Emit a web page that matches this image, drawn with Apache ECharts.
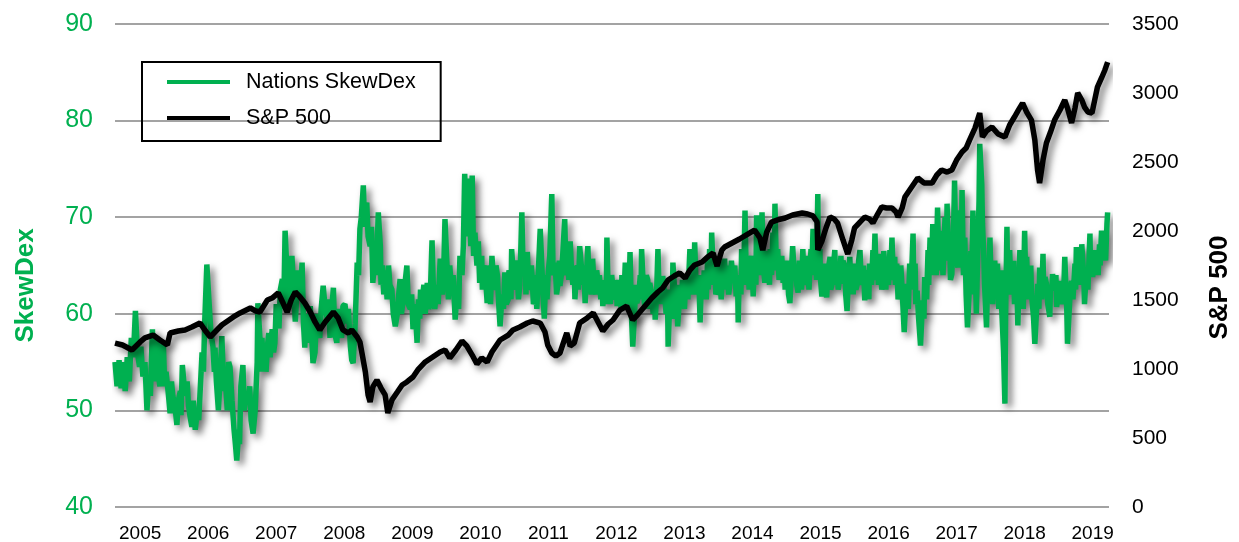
<!DOCTYPE html>
<html>
<head>
<meta charset="utf-8">
<title>Nations SkewDex vs S&amp;P 500</title>
<script src="https://cdn.jsdelivr.net/npm/echarts@6/dist/echarts.min.js"></script>
<style>
  html, body { margin: 0; padding: 0; background: #fff; }
  #chart { width: 1239px; height: 542px; }
</style>
</head>
<body>
<div id="chart"></div>
<script>
// year labels on the x axis
const years = [2005, 2006, 2007, 2008, 2009, 2010, 2011, 2012, 2013, 2014, 2015, 2016, 2017, 2018, 2019]

// Nations SkewDex, [fractional year, value]
const skewDex = [
  [2004.63,55.0],[2004.66,52.5],[2004.69,55.2],[2004.72,52.3],[2004.75,55.0],[2004.78,52.0],[2004.81,55.5],[2004.84,53.0],
  [2004.87,57.5],[2004.90,55.5],[2004.93,60.3],[2004.96,56.0],[2004.99,54.5],[2005.01,56.6],[2005.04,53.5],[2005.07,55.0],
  [2005.10,50.0],[2005.13,53.5],[2005.15,51.5],[2005.18,58.4],[2005.20,53.0],[2005.22,55.0],[2005.25,57.5],[2005.27,53.5],
  [2005.29,52.5],[2005.31,55.5],[2005.34,57.0],[2005.36,52.5],[2005.38,54.0],[2005.41,52.0],[2005.44,49.7],[2005.46,53.0],
  [2005.48,51.5],[2005.51,50.5],[2005.54,48.5],[2005.56,51.0],[2005.59,52.0],[2005.60,49.5],[2005.62,54.7],[2005.66,51.5],
  [2005.69,53.0],[2005.71,50.5],[2005.73,49.5],[2005.76,48.3],[2005.78,51.0],[2005.81,48.0],[2005.84,50.0],[2005.86,49.0],
  [2005.88,51.8],[2005.91,56.0],[2005.93,54.0],[2005.95,59.4],[2005.98,65.1],[2006.01,61.5],[2006.04,58.0],[2006.07,56.6],
  [2006.09,54.0],[2006.10,56.5],[2006.12,53.0],[2006.15,50.0],[2006.18,54.0],[2006.20,57.7],[2006.23,52.0],[2006.25,53.5],
  [2006.28,50.0],[2006.30,55.0],[2006.32,54.5],[2006.35,51.0],[2006.38,48.0],[2006.40,46.5],[2006.42,44.8],[2006.45,48.0],
  [2006.46,46.5],[2006.48,52.5],[2006.51,54.7],[2006.53,50.0],[2006.56,52.0],[2006.59,51.0],[2006.61,52.5],[2006.63,49.0],
  [2006.66,47.6],[2006.69,50.0],[2006.72,55.0],[2006.73,61.1],[2006.76,57.5],[2006.78,54.0],[2006.79,57.5],[2006.81,54.5],
  [2006.84,57.0],[2006.85,54.0],[2006.87,56.6],[2006.89,58.0],[2006.91,55.5],[2006.94,58.4],[2006.96,56.0],[2006.98,57.0],
  [2007.00,61.0],[2007.01,59.5],[2007.04,58.5],[2007.06,62.5],[2007.09,63.6],[2007.11,60.5],[2007.13,68.6],[2007.16,64.0],
  [2007.17,65.5],[2007.18,60.5],[2007.20,63.0],[2007.23,66.0],[2007.26,62.0],[2007.28,59.2],[2007.31,63.0],[2007.32,64.5],
  [2007.35,62.0],[2007.38,65.3],[2007.40,59.0],[2007.42,56.5],[2007.44,60.0],[2007.47,57.0],[2007.50,60.8],[2007.52,58.0],
  [2007.54,54.9],[2007.57,56.0],[2007.59,60.0],[2007.61,58.5],[2007.64,57.5],[2007.66,60.5],[2007.69,62.9],[2007.72,60.5],
  [2007.75,59.5],[2007.77,61.5],[2007.79,57.5],[2007.81,60.0],[2007.84,62.7],[2007.86,58.0],[2007.89,57.0],[2007.91,60.5],
  [2007.94,59.5],[2007.96,57.5],[2007.98,60.8],[2008.01,61.0],[2008.04,59.0],[2008.06,60.5],[2008.09,56.6],[2008.11,55.2],
  [2008.13,54.9],[2008.16,59.0],[2008.19,65.3],[2008.21,64.0],[2008.23,68.8],[2008.25,70.0],[2008.28,73.3],[2008.30,69.0],
  [2008.31,71.0],[2008.33,71.5],[2008.35,68.0],[2008.38,67.0],[2008.40,69.0],[2008.42,63.2],[2008.45,66.0],[2008.47,64.0],
  [2008.50,70.5],[2008.53,67.0],[2008.54,63.0],[2008.56,65.0],[2008.58,62.0],[2008.60,64.5],[2008.63,61.5],[2008.65,65.0],
  [2008.67,63.0],[2008.70,62.5],[2008.72,60.0],[2008.75,58.7],[2008.78,60.0],[2008.80,62.0],[2008.82,63.6],[2008.84,60.0],
  [2008.86,61.1],[2008.89,63.0],[2008.92,65.0],[2008.94,61.0],[2008.97,60.5],[2008.99,62.0],[2009.01,58.4],[2009.04,61.0],
  [2009.07,57.0],[2009.09,61.5],[2009.11,59.5],[2009.12,62.5],[2009.14,61.1],[2009.17,63.0],[2009.19,60.0],[2009.22,63.2],
  [2009.24,60.5],[2009.26,61.0],[2009.29,67.6],[2009.31,62.5],[2009.33,60.5],[2009.36,63.0],[2009.38,61.0],[2009.41,65.7],
  [2009.44,62.0],[2009.46,64.0],[2009.48,69.8],[2009.51,65.0],[2009.53,61.5],[2009.55,65.0],[2009.58,62.0],[2009.60,64.0],
  [2009.63,59.4],[2009.66,62.5],[2009.68,60.5],[2009.70,66.0],[2009.73,64.0],[2009.75,67.0],[2009.77,74.5],[2009.80,68.0],
  [2009.83,74.0],[2009.86,67.0],[2009.88,74.3],[2009.90,66.0],[2009.92,68.4],[2009.95,65.0],[2009.97,67.5],[2009.99,63.2],
  [2010.02,66.0],[2010.03,62.5],[2010.05,65.0],[2010.08,63.5],[2010.10,61.1],[2010.12,65.0],[2010.14,64.0],[2010.15,61.0],
  [2010.17,66.0],[2010.20,63.0],[2010.22,62.5],[2010.23,65.0],[2010.25,64.0],[2010.27,61.0],[2010.29,58.7],[2010.32,62.0],
  [2010.34,60.5],[2010.36,64.3],[2010.38,61.0],[2010.41,61.5],[2010.42,64.5],[2010.44,64.0],[2010.45,61.5],[2010.46,66.7],
  [2010.49,63.5],[2010.51,62.5],[2010.52,65.5],[2010.54,65.0],[2010.56,61.5],[2010.58,63.0],[2010.61,70.5],[2010.63,64.0],
  [2010.66,66.0],[2010.67,62.0],[2010.69,66.4],[2010.71,63.0],[2010.73,62.5],[2010.75,65.0],[2010.76,63.9],[2010.78,61.0],
  [2010.80,61.5],[2010.81,64.0],[2010.83,60.5],[2010.85,64.0],[2010.88,68.8],[2010.91,64.0],[2010.92,62.0],[2010.94,59.5],
  [2010.96,64.0],[2010.98,61.5],[2011.00,64.5],[2011.02,66.0],[2011.05,72.4],[2011.07,64.0],[2011.10,65.3],[2011.12,62.0],
  [2011.14,63.0],[2011.16,65.5],[2011.17,62.9],[2011.19,64.0],[2011.21,66.0],[2011.24,69.8],[2011.26,64.0],[2011.29,66.0],
  [2011.30,63.5],[2011.32,67.5],[2011.34,64.5],[2011.36,63.0],[2011.38,65.0],[2011.39,61.5],[2011.41,64.0],[2011.43,65.0],
  [2011.44,62.5],[2011.46,67.0],[2011.49,64.5],[2011.51,63.0],[2011.52,65.0],[2011.54,61.1],[2011.56,64.0],[2011.58,67.0],
  [2011.60,62.5],[2011.61,64.0],[2011.63,62.0],[2011.65,65.7],[2011.67,63.0],[2011.70,62.0],[2011.71,64.5],[2011.73,63.2],
  [2011.75,64.0],[2011.77,61.5],[2011.79,63.5],[2011.80,60.8],[2011.82,62.5],[2011.83,63.0],[2011.85,61.0],[2011.86,67.9],
  [2011.88,62.0],[2011.90,63.5],[2011.91,61.0],[2011.93,64.0],[2011.96,62.0],[2011.98,61.5],[2012.00,63.5],[2012.01,60.8],
  [2012.03,63.5],[2012.05,62.5],[2012.07,60.5],[2012.08,64.0],[2012.11,61.5],[2012.13,65.3],[2012.15,61.0],[2012.17,62.0],
  [2012.19,63.5],[2012.20,66.4],[2012.22,60.0],[2012.24,56.6],[2012.27,60.5],[2012.28,63.0],[2012.30,61.1],[2012.33,62.0],
  [2012.35,64.0],[2012.36,61.5],[2012.37,66.7],[2012.40,62.0],[2012.42,60.5],[2012.44,64.0],[2012.46,63.5],[2012.48,60.5],
  [2012.49,63.2],[2012.52,62.0],[2012.54,60.0],[2012.56,62.5],[2012.57,59.4],[2012.59,62.0],[2012.61,66.7],[2012.63,61.5],
  [2012.64,63.5],[2012.66,61.0],[2012.68,63.9],[2012.71,62.0],[2012.73,60.0],[2012.75,62.5],[2012.76,56.6],[2012.78,60.5],
  [2012.80,61.0],[2012.82,59.5],[2012.83,65.3],[2012.86,62.0],[2012.88,61.0],[2012.89,63.0],[2012.90,58.7],[2012.93,62.0],
  [2012.95,60.8],[2012.97,63.5],[2012.98,62.5],[2013.00,60.5],[2013.02,63.9],[2013.05,61.5],[2013.08,66.7],[2013.10,62.0],
  [2013.12,64.6],[2013.14,62.0],[2013.15,67.4],[2013.17,63.0],[2013.19,62.5],[2013.21,64.0],[2013.23,59.1],[2013.25,63.5],
  [2013.27,61.8],[2013.29,64.5],[2013.30,63.9],[2013.32,61.5],[2013.34,65.7],[2013.35,62.5],[2013.37,66.7],[2013.39,63.5],
  [2013.40,68.4],[2013.43,63.0],[2013.45,65.3],[2013.46,62.0],[2013.48,62.5],[2013.50,65.5],[2013.52,63.9],[2013.54,61.5],
  [2013.55,62.9],[2013.57,64.5],[2013.59,65.7],[2013.61,62.5],[2013.62,65.0],[2013.65,62.0],[2013.67,63.2],[2013.69,65.5],
  [2013.71,63.9],[2013.74,65.0],[2013.76,61.8],[2013.78,64.0],[2013.79,59.1],[2013.80,62.5],[2013.81,63.9],[2013.83,62.0],
  [2013.84,66.7],[2013.87,63.5],[2013.89,70.7],[2013.91,63.0],[2013.93,66.0],[2013.95,62.5],[2013.96,63.9],[2013.99,66.0],
  [2014.01,61.8],[2014.02,64.0],[2014.03,65.7],[2014.05,63.0],[2014.06,70.2],[2014.09,64.0],[2014.11,67.4],[2014.12,64.0],
  [2014.14,70.5],[2014.16,65.0],[2014.18,63.2],[2014.21,66.5],[2014.23,65.3],[2014.25,63.0],[2014.26,66.7],[2014.28,64.0],
  [2014.30,68.4],[2014.32,64.5],[2014.33,71.4],[2014.35,65.0],[2014.37,66.7],[2014.39,63.5],[2014.40,64.6],[2014.43,66.0],
  [2014.45,63.2],[2014.47,65.0],[2014.48,62.5],[2014.50,65.5],[2014.52,63.9],[2014.53,62.0],[2014.55,61.1],[2014.57,64.0],
  [2014.59,67.0],[2014.62,63.5],[2014.64,65.0],[2014.65,63.0],[2014.67,62.2],[2014.69,65.5],[2014.71,64.6],[2014.72,62.5],
  [2014.74,66.7],[2014.76,63.0],[2014.78,63.9],[2014.80,66.0],[2014.81,64.6],[2014.83,62.5],[2014.86,66.7],[2014.87,64.0],
  [2014.89,68.8],[2014.91,64.0],[2014.93,66.7],[2014.94,63.5],[2014.96,72.4],[2014.97,64.0],[2014.99,66.7],[2015.00,63.5],
  [2015.02,61.8],[2015.04,64.0],[2015.06,65.2],[2015.07,63.0],[2015.09,61.7],[2015.11,64.5],[2015.14,65.9],[2015.15,62.5],
  [2015.17,63.1],[2015.19,65.0],[2015.21,66.6],[2015.22,63.0],[2015.24,65.2],[2015.26,62.5],[2015.28,63.8],[2015.30,66.0],
  [2015.31,63.1],[2015.33,65.5],[2015.36,64.8],[2015.37,62.0],[2015.39,60.3],[2015.41,63.5],[2015.43,65.9],[2015.45,62.5],
  [2015.47,64.5],[2015.48,62.0],[2015.50,65.2],[2015.52,62.5],[2015.55,63.4],[2015.56,65.5],[2015.58,66.6],[2015.60,63.0],
  [2015.62,63.8],[2015.63,65.0],[2015.65,61.4],[2015.67,64.5],[2015.69,63.8],[2015.71,61.5],[2015.72,65.2],[2015.75,63.0],
  [2015.77,66.6],[2015.78,63.5],[2015.80,68.3],[2015.82,63.5],[2015.84,65.9],[2015.85,63.0],[2015.87,66.2],[2015.90,62.5],
  [2015.92,63.8],[2015.93,66.5],[2015.94,65.2],[2015.96,62.5],[2015.97,64.5],[2016.00,63.0],[2016.02,66.6],[2016.03,63.5],
  [2016.05,67.9],[2016.07,63.5],[2016.09,65.9],[2016.10,63.0],[2016.12,65.2],[2016.14,61.5],[2016.17,63.1],[2016.18,65.0],
  [2016.20,62.4],[2016.23,58.1],[2016.25,61.0],[2016.27,63.1],[2016.29,60.5],[2016.31,65.2],[2016.33,62.5],[2016.36,68.3],
  [2016.37,63.5],[2016.39,65.2],[2016.40,61.0],[2016.42,62.4],[2016.44,59.7],[2016.47,56.7],[2016.50,61.4],[2016.52,59.5],
  [2016.53,63.8],[2016.56,61.5],[2016.58,66.6],[2016.59,63.0],[2016.61,67.9],[2016.63,64.0],[2016.65,69.3],[2016.67,64.5],
  [2016.68,67.2],[2016.70,64.0],[2016.72,71.0],[2016.74,65.0],[2016.75,68.6],[2016.77,64.5],[2016.78,67.2],[2016.80,64.0],
  [2016.83,70.0],[2016.85,65.5],[2016.86,71.4],[2016.88,66.0],[2016.90,67.9],[2016.91,63.5],[2016.93,64.1],[2016.96,70.0],
  [2016.97,73.8],[2016.99,66.0],[2017.02,64.8],[2017.04,68.0],[2017.05,70.7],[2017.07,66.0],[2017.08,72.8],[2017.10,64.0],
  [2017.12,67.9],[2017.14,62.0],[2017.16,58.6],[2017.19,63.1],[2017.21,66.5],[2017.22,62.5],[2017.24,70.7],[2017.26,62.0],
  [2017.27,66.6],[2017.29,60.0],[2017.30,63.1],[2017.33,71.7],[2017.34,77.6],[2017.37,73.4],[2017.38,69.3],[2017.40,66.0],
  [2017.41,63.1],[2017.44,58.6],[2017.46,65.0],[2017.47,62.4],[2017.49,67.9],[2017.51,62.0],[2017.52,63.8],[2017.53,61.0],
  [2017.56,65.5],[2017.58,63.1],[2017.59,61.5],[2017.60,65.2],[2017.62,60.5],[2017.63,62.4],[2017.65,64.5],[2017.66,61.0],
  [2017.69,56.2],[2017.71,50.7],[2017.72,59.7],[2017.74,69.0],[2017.75,63.5],[2017.77,65.2],[2017.78,66.6],[2017.80,62.0],
  [2017.82,63.8],[2017.84,65.5],[2017.85,61.0],[2017.88,64.8],[2017.90,58.8],[2017.93,66.6],[2017.94,61.5],[2017.96,63.1],
  [2017.98,60.5],[2018.00,68.6],[2018.02,62.0],[2018.03,65.9],[2018.05,61.5],[2018.07,63.1],[2018.09,65.0],[2018.10,62.1],
  [2018.13,59.7],[2018.15,56.9],[2018.18,61.0],[2018.19,63.1],[2018.21,60.5],[2018.22,64.8],[2018.25,61.5],[2018.27,66.2],
  [2018.28,62.0],[2018.30,63.8],[2018.32,63.1],[2018.34,61.0],[2018.37,59.7],[2018.38,63.0],[2018.40,62.4],[2018.41,64.1],
  [2018.44,62.4],[2018.46,64.0],[2018.47,60.7],[2018.50,62.5],[2018.52,63.4],[2018.53,61.0],[2018.55,62.4],[2018.57,61.0],
  [2018.59,65.9],[2018.62,60.3],[2018.63,56.9],[2018.66,61.0],[2018.67,62.5],[2018.69,63.4],[2018.71,61.5],[2018.74,65.2],
  [2018.75,62.5],[2018.76,66.9],[2018.78,63.0],[2018.81,65.9],[2018.82,63.0],[2018.84,67.2],[2018.87,63.8],[2018.88,61.0],
  [2018.91,64.8],[2018.93,62.5],[2018.96,68.3],[2018.97,64.0],[2018.99,65.2],[2019.00,63.8],[2019.03,66.6],[2019.04,64.0],
  [2019.06,65.9],[2019.08,64.0],[2019.10,67.2],[2019.11,65.0],[2019.13,68.6],[2019.16,66.6],[2019.18,66.9],[2019.19,65.5],
  [2019.21,69.3],[2019.22,70.5]
]

// S&P 500 level
const spxYears = [
  2004.63, 2004.74, 2004.88, 2005.00, 2005.07, 2005.19, 2005.29, 2005.40, 2005.44, 2005.56,
  2005.66, 2005.76, 2005.88, 2005.95, 2006.03, 2006.10, 2006.20, 2006.37, 2006.47, 2006.62,
  2006.70, 2006.76, 2006.87, 2006.94, 2007.03, 2007.10, 2007.16, 2007.22, 2007.28, 2007.35,
  2007.42, 2007.50, 2007.57, 2007.64, 2007.72, 2007.84, 2007.91, 2007.98, 2008.06, 2008.11,
  2008.19, 2008.23, 2008.26, 2008.31, 2008.35, 2008.38, 2008.42, 2008.48, 2008.54, 2008.60,
  2008.64, 2008.70, 2008.78, 2008.85, 2008.92, 2009.01, 2009.08, 2009.19, 2009.30, 2009.41,
  2009.48, 2009.55, 2009.64, 2009.73, 2009.80, 2009.88, 2009.95, 2010.02, 2010.10, 2010.17,
  2010.29, 2010.41, 2010.48, 2010.58, 2010.69, 2010.77, 2010.88, 2010.95, 2010.99, 2011.05,
  2011.11, 2011.17, 2011.21, 2011.27, 2011.32, 2011.38, 2011.46, 2011.57, 2011.66, 2011.73,
  2011.80, 2011.88, 2011.95, 2012.05, 2012.15, 2012.24, 2012.32, 2012.42, 2012.52, 2012.61,
  2012.68, 2012.76, 2012.85, 2012.93, 2013.01, 2013.08, 2013.15, 2013.26, 2013.34, 2013.42,
  2013.48, 2013.55, 2013.59, 2013.70, 2013.81, 2013.93, 2014.03, 2014.11, 2014.15, 2014.21,
  2014.28, 2014.37, 2014.48, 2014.59, 2014.73, 2014.81, 2014.89, 2014.95, 2014.96, 2015.02,
  2015.08, 2015.14, 2015.20, 2015.25, 2015.33, 2015.40, 2015.46, 2015.50, 2015.58, 2015.65,
  2015.72, 2015.77, 2015.84, 2015.90, 2015.97, 2016.05, 2016.11, 2016.14, 2016.20, 2016.24,
  2016.31, 2016.39, 2016.43, 2016.52, 2016.64, 2016.71, 2016.78, 2016.86, 2016.93, 2017.00,
  2017.08, 2017.14, 2017.19, 2017.27, 2017.34, 2017.38, 2017.44, 2017.52, 2017.61, 2017.71,
  2017.78, 2017.85, 2017.91, 2017.97, 2018.03, 2018.10, 2018.15, 2018.19, 2018.22, 2018.27,
  2018.32, 2018.38, 2018.44, 2018.52, 2018.59, 2018.63, 2018.69, 2018.74, 2018.78, 2018.84,
  2018.88, 2018.93, 2018.99, 2019.03, 2019.07, 2019.13, 2019.18, 2019.22
]
const spxValues = [
  1188, 1174, 1138, 1196, 1225, 1246, 1210, 1174, 1261, 1275,
  1283, 1304, 1333, 1283, 1232, 1268, 1319, 1377, 1406, 1442,
  1420, 1413, 1500, 1514, 1551, 1478, 1413, 1500, 1558, 1522,
  1478, 1413, 1341, 1283, 1341, 1413, 1370, 1283, 1261, 1283,
  1232, 1196, 1116, 978, 812, 761, 870, 920, 862, 812,
  681, 775, 833, 884, 906, 942, 993, 1051, 1087, 1123,
  1138, 1080, 1138, 1203, 1167, 1101, 1036, 1080, 1051, 1123,
  1210, 1246, 1283, 1304, 1333, 1348, 1333, 1268, 1174, 1116,
  1094, 1116, 1174, 1261, 1167, 1188, 1333, 1370, 1406, 1341,
  1275, 1326, 1355, 1427, 1456, 1355, 1398, 1456, 1514, 1558,
  1587, 1645, 1674, 1696, 1659, 1717, 1754, 1775, 1812, 1840,
  1746, 1862, 1884, 1913, 1942, 1978, 2007, 1949, 1862, 1993,
  2065, 2080, 2094, 2116, 2130, 2123, 2109, 2065, 1862, 1927,
  2022, 2101, 2087, 2058, 1935, 1833, 1935, 2022, 2065, 2101,
  2087, 2058, 2123, 2174, 2167, 2167, 2138, 2101, 2167, 2246,
  2297, 2355, 2384, 2348, 2348, 2406, 2442, 2427, 2442, 2514,
  2572, 2601, 2659, 2746, 2855, 2681, 2725, 2753, 2703, 2681,
  2768, 2826, 2877, 2927, 2862, 2804, 2659, 2442, 2348, 2514,
  2638, 2717, 2804, 2877, 2949, 2891, 2783, 2891, 3000, 2949,
  2898, 2862, 2855, 2949, 3043, 3109, 3167, 3224
]

const GREEN = '#00b050'
const FONT = '"Liberation Sans", Arial, sans-serif'

const lineShadow = {
  shadowColor: 'rgba(0,0,0,0.55)',
  shadowBlur: 7,
  shadowOffsetX: 4,
  shadowOffsetY: 4
}

const chart = echarts.init(document.getElementById('chart'))
const option = {
  animation: false,
  backgroundColor: '#fff',
  textStyle: { fontFamily: FONT },
  grid: { left: 115, right: 130, top: 24, bottom: 35, containLabel: false, outerBoundsMode: 'none' },
  legend: {
    orient: 'vertical',
    left: 142,
    top: 62,
    padding: [9, 25, 12, 25],
    borderColor: '#000',
    borderWidth: 2,
    icon: 'rect',
    itemWidth: 63,
    itemHeight: 4,
    itemGap: 14,
    textStyle: { fontSize: 21.5, color: '#000', lineHeight: 22, padding: [0, 0, 0, 11], fontFamily: FONT },
    data: ['Nations SkewDex', 'S&P 500']
  },
  xAxis: {
    type: 'value',
    min: 2004.63,
    max: 2019.24,
    axisLine: { show: false },
    axisTick: { show: false },
    splitLine: { show: false },
    axisLabel: {
      customValues: years,
      formatter: v => String(v),
      fontSize: 19,
      color: '#000',
      margin: 17
    }
  },
  yAxis: [
    {
      type: 'value',
      min: 40,
      max: 90,
      interval: 10,
      name: 'SkewDex',
      nameLocation: 'middle',
      nameGap: 76,
      nameRotate: 90,
      nameTextStyle: { color: GREEN, fontSize: 26, fontWeight: 'bold', padding: [0, 40, 0, 0] },
      axisLine: { show: false },
      axisTick: { show: false },
      axisLabel: { color: GREEN, fontSize: 25, margin: 22 },
      splitLine: { lineStyle: { color: '#a3a3a3', width: 2 } }
    },
    {
      type: 'value',
      min: 0,
      max: 3500,
      interval: 500,
      position: 'right',
      name: 'S&P 500',
      nameLocation: 'middle',
      nameGap: 98,
      nameRotate: 90,
      nameTextStyle: { color: '#000', fontSize: 26, fontWeight: 'bold', padding: [0, 44, 0, 0] },
      axisLine: { show: false },
      axisTick: { show: false },
      axisLabel: { color: '#000', fontSize: 21, margin: 23, formatter: v => String(v) },
      splitLine: { show: false }
    }
  ],
  series: [
    {
      name: 'Nations SkewDex',
      type: 'line',
      yAxisIndex: 0,
      data: skewDex,
      showSymbol: false,
      symbol: 'none',
      color: GREEN,
      lineStyle: Object.assign({ color: GREEN, width: 5.5 }, lineShadow),
      z: 2
    },
    {
      name: 'S&P 500',
      type: 'line',
      yAxisIndex: 1,
      data: spxYears.map((y, i) => [y, spxValues[i]]),
      showSymbol: false,
      symbol: 'none',
      color: '#000',
      lineStyle: Object.assign({ color: '#000', width: 5.5 }, lineShadow),
      z: 3
    }
  ]
}
chart.setOption(option)
</script>
</body>
</html>
